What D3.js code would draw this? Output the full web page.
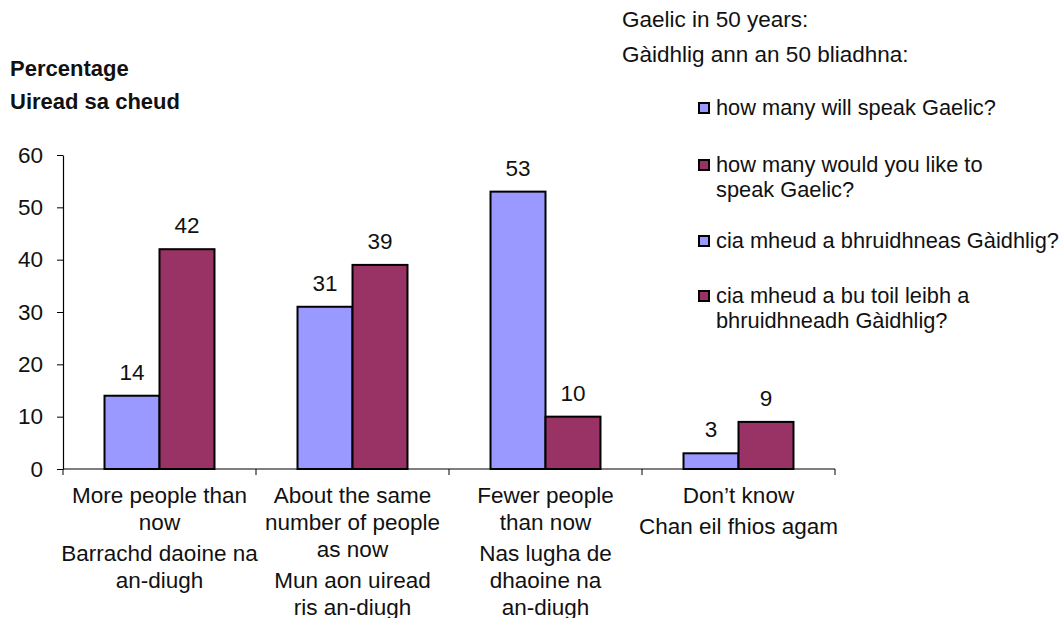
<!DOCTYPE html>
<html lang="en">
<head>
<meta charset="UTF-8">
<title>Gaelic in 50 years</title>
<script src="https://cdn.jsdelivr.net/npm/d3@7"></script>
<style>
  body { margin: 0; background: #fff; }
  text { font-family: "Liberation Sans", Arial, sans-serif; fill: #111; }
</style>
</head>
<body>
<svg id="svg"></svg>
<script>
// data
const categories = ["more", "same", "fewer", "dontknow"];
const labelsEn = [["More people than", "now"], ["About the same", "number of people", "as now"], ["Fewer people", "than now"], ["Don\u2019t know"]];
const labelsGd = [["Barrachd daoine na", "an-diugh"], ["Mun aon uiread", "ris an-diugh"], ["Nas lugha de", "dhaoine na", "an-diugh"], ["Chan eil fhios agam"]];
const willSpeak = [14, 31, 53, 3];
const likeToSpeak = [42, 39, 10, 9];
const yTicks = [0, 10, 20, 30, 40, 50, 60];
const titleLines = ["Gaelic in 50 years:", "G\u00e0idhlig ann an 50 bliadhna:"];
const yTitleLines = ["Percentage", "Uiread sa cheud"];
const legendItems = [
    ["how many will speak Gaelic?"],
    ["how many would you like to", "speak Gaelic?"],
    ["cia mheud a bhruidhneas G\u00e0idhlig?"],
    ["cia mheud a bu toil leibh a", "bhruidhneadh G\u00e0idhlig?"]
];

const width = 1062, height = 618;
const blue = "#9999ff", red = "#993366";
const fs = 22.5;   // most labels
const fsLegend = 21.8;

const svg = d3.select("#svg").attr("width", width).attr("height", height);

const x0 = d3.scaleBand().domain(categories).range([63, 835]).padding(0);
const x1 = d3.scaleBand().domain(["will", "like"]).range([0, x0.bandwidth()])
    .paddingInner(0).paddingOuter(0.755);
const y = d3.scaleLinear().domain([0, 60]).range([469, 155]);
const color = d3.scaleOrdinal().domain(["will", "like"]).range([blue, red]);

const rows = categories.map((c, i) => ({ cat: c, will: willSpeak[i], like: likeToSpeak[i] }));

// y axis
const yAxis = svg.append("g")
    .attr("transform", "translate(63,0)")
    .call(d3.axisLeft(y).tickValues(yTicks).tickSize(6).tickSizeOuter(0).tickPadding(14));
yAxis.select(".domain").attr("stroke", "#000").attr("stroke-width", 1.2);
yAxis.selectAll(".tick line").attr("stroke", "#000");
yAxis.selectAll(".tick text").style("font-size", fs + "px").attr("font-family", null).attr("fill", "#111");

// x axis line and boundary ticks
svg.append("line").attr("x1", 63).attr("x2", 835).attr("y1", y(0)).attr("y2", y(0))
    .attr("stroke", "#000").attr("stroke-width", 1.2);
const bounds = categories.map(c => x0(c)).concat([x0(categories[3]) + x0.bandwidth()]);
svg.selectAll(".xtick").data(bounds).enter().append("line")
    .attr("x1", d => d).attr("x2", d => d)
    .attr("y1", y(0)).attr("y2", y(0) + 6)
    .attr("stroke", "#000");

// bars
const groups = svg.selectAll(".grp").data(rows).enter().append("g")
    .attr("transform", d => `translate(${x0(d.cat)},0)`);
groups.selectAll("rect")
    .data(d => ["will", "like"].map(k => ({ key: k, value: d[k] })))
    .enter().append("rect")
    .attr("x", d => x1(d.key))
    .attr("y", d => y(d.value))
    .attr("width", x1.bandwidth())
    .attr("height", d => y(0) - y(d.value))
    .attr("fill", d => color(d.key))
    .attr("stroke", "#000")
    .attr("stroke-width", 2);
groups.selectAll(".val")
    .data(d => ["will", "like"].map(k => ({ key: k, value: d[k] })))
    .enter().append("text")
    .attr("x", d => x1(d.key) + x1.bandwidth() / 2)
    .attr("y", d => y(d.value) - 16)
    .attr("text-anchor", "middle")
    .style("font-size", fs + "px")
    .text(d => d.value);

// category labels
categories.forEach((c, i) => {
    const cx = x0(c) + x0.bandwidth() / 2;
    const lines = labelsEn[i].map((t, j) => ({ t, y: 503 + j * 27 }));
    const start = 503 + labelsEn[i].length * 27 + 4;
    labelsGd[i].forEach((t, j) => lines.push({ t, y: start + j * 27 }));
    svg.selectAll(null).data(lines).enter().append("text")
        .attr("x", cx).attr("y", d => d.y)
        .attr("text-anchor", "middle")
        .style("font-size", fs + "px")
        .text(d => d.t);
});

// y title
svg.selectAll(".ytitle").data(yTitleLines).enter().append("text")
    .attr("x", 10).attr("y", (d, i) => 76 + i * 33)
    .style("font-size", "22px").style("font-weight", "bold")
    .text(d => d);

// chart title
svg.selectAll(".title").data(titleLines).enter().append("text")
    .attr("x", 622).attr("y", (d, i) => 27 + i * 35)
    .style("font-size", fs + "px")
    .text(d => d);

// legend
const legendY = [115, 172, 248, 303];
const legendColors = [blue, red, blue, red];
legendItems.forEach((lines, i) => {
    const g = svg.append("g").attr("transform", `translate(698,${legendY[i]})`);
    g.append("rect").attr("x", 1).attr("y", -12).attr("width", 10).attr("height", 10)
        .attr("fill", legendColors[i]).attr("stroke", "#000").attr("stroke-width", 2);
    lines.forEach((t, j) => {
        g.append("text").attr("x", 18).attr("y", j * 25)
            .style("font-size", fsLegend + "px").text(t);
    });
});
</script>
</body>
</html>
